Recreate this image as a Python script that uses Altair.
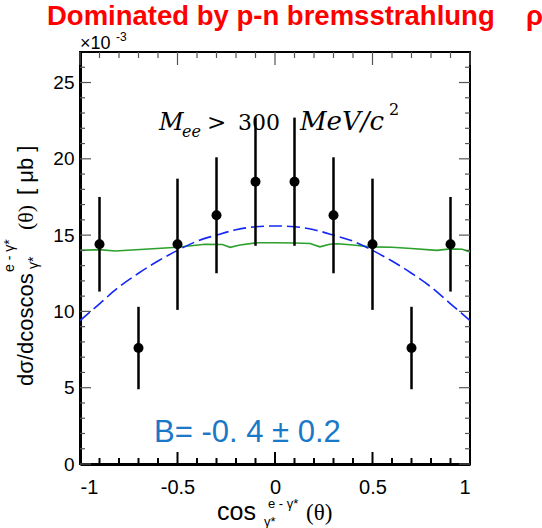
import altair as alt
import pandas as pd

# Measured angular distribution (x10^-3 ub)
bin_centers = [-0.9, -0.7, -0.5, -0.3, -0.1, 0.1, 0.3, 0.5, 0.7, 0.9]
xsec = [14.4, 7.6, 14.4, 16.3, 18.5, 18.5, 16.3, 14.4, 7.6, 14.4]
xsec_err = [3.1, 2.7, 4.3, 3.8, 4.2, 4.2, 3.8, 4.3, 2.7, 3.1]

# Fitted anisotropy curve (blue dashed)
fit_x = [-1.0, -0.9, -0.8, -0.7, -0.6, -0.5, -0.4, -0.3, -0.2, -0.1, 0.0,
         0.1, 0.2, 0.3, 0.4, 0.5, 0.6, 0.7, 0.8, 0.9, 1.0]
fit_y = [9.4, 10.5, 11.6, 12.5, 13.3, 14.0, 14.6, 15.0, 15.35, 15.55, 15.6,
         15.55, 15.35, 15.0, 14.6, 14.0, 13.3, 12.5, 11.6, 10.5, 9.4]

# Simulation (green)
sim_x = [-1.0, -0.9, -0.82, -0.67, -0.5, -0.36, -0.27, -0.23, -0.18, -0.09, 0.0,
         0.1, 0.18, 0.23, 0.28, 0.32, 0.4, 0.49, 0.6, 0.7, 0.83, 0.9, 0.96, 1.0]
sim_y = [14.0, 14.05, 13.96, 14.07, 14.2, 14.4, 14.38, 14.2, 14.35, 14.5, 14.5,
         14.48, 14.45, 14.23, 14.4, 14.43, 14.35, 14.23, 14.2, 14.12, 14.0, 14.1, 14.07, 13.9]

x_major = [-1.0, -0.5, 0.0, 0.5, 1.0]
x_minor = [-0.9, -0.8, -0.7, -0.6, -0.4, -0.3, -0.2, -0.1,
           0.1, 0.2, 0.3, 0.4, 0.6, 0.7, 0.8, 0.9]
y_major = [0, 5, 10, 15, 20, 25]
y_minor = [1, 2, 3, 4, 6, 7, 8, 9, 11, 12, 13, 14, 16, 17, 18, 19, 21, 22, 23, 24, 26]

W, H = 390, 412
X_DOMAIN = [-1, 1]
Y_DOMAIN = [0, 27]

xs = alt.Scale(domain=X_DOMAIN, nice=False, zero=False)
ys = alt.Scale(domain=Y_DOMAIN, nice=False, zero=False)

SANS = "Liberation Sans"
SERIF = "DejaVu Serif"

pts = pd.DataFrame({"x": bin_centers, "y": xsec, "err": xsec_err})
pts["lo"] = pts["y"] - pts["err"]
pts["hi"] = pts["y"] + pts["err"]

label_expr = ("datum.value < 0 ? '-' + format(-datum.value, '~g') : "
              "format(datum.value, '~g')")

x_axis = alt.Axis(values=x_major, labelExpr=label_expr, ticks=False, tickSize=0,
                  grid=False, domain=True, domainColor="black", domainWidth=3,
                  labelFont=SANS, labelFontSize=20, labelColor="black",
                  labelPadding=13, title=None)
y_axis = alt.Axis(values=y_major, ticks=False, tickSize=0, grid=False,
                  domain=True, domainColor="black", domainWidth=3,
                  labelFont=SANS, labelFontSize=19, labelColor="black",
                  labelPadding=6, title=None)

base_pts = alt.Chart(pts)

errbars = base_pts.mark_rule(color="black", strokeWidth=2.5).encode(
    x=alt.X("x:Q", scale=xs, axis=x_axis),
    y=alt.Y("lo:Q", scale=ys, axis=y_axis),
    y2="hi:Q",
)
dots = base_pts.mark_point(filled=True, color="black", size=100, opacity=1,
                           shape="circle").encode(
    x=alt.X("x:Q", scale=xs), y=alt.Y("y:Q", scale=ys))

fit = alt.Chart(pd.DataFrame({"x": fit_x, "y": fit_y})).mark_line(
    color="#1428f5", strokeWidth=1.6, strokeDash=[13, 5],
    interpolate="monotone", clip=True).encode(
    x=alt.X("x:Q", scale=xs), y=alt.Y("y:Q", scale=ys))

sim = alt.Chart(pd.DataFrame({"x": sim_x, "y": sim_y})).mark_line(
    color="#2ca02c", strokeWidth=1.6, clip=True).encode(
    x=alt.X("x:Q", scale=xs), y=alt.Y("y:Q", scale=ys))


def xticks(vals, y0, y1, color, width):
    return alt.Chart(pd.DataFrame({"v": vals})).mark_rule(
        color=color, strokeWidth=width).encode(
        x=alt.X("v:Q", scale=xs), y=alt.value(y0), y2=alt.value(y1))


def yticks(vals, x0, x1, color, width):
    return alt.Chart(pd.DataFrame({"v": vals})).mark_rule(
        color=color, strokeWidth=width).encode(
        y=alt.Y("v:Q", scale=ys), x=alt.value(x0), x2=alt.value(x1))


ticks = [
    xticks(x_major, H, H - 12, "black", 2),
    xticks(x_minor, H, H - 6, "black", 2),
    xticks(x_major, 0, 13, "#555555", 1.2),
    xticks(x_minor, 0, 6, "#555555", 1.2),
    yticks(y_major, 0, 11, "#555555", 1.2),
    yticks(y_minor, 0, 5, "#555555", 1.2),
    yticks(y_major, W, W - 11, "#555555", 1.2),
    yticks(y_minor, W, W - 5, "#555555", 1.2),
]


def label(text, x, y, size, font=SANS, color="black", weight="normal",
          style="normal", angle=0, align="left"):
    return alt.Chart(pd.DataFrame({"t": [text]})).mark_text(
        font=font, fontSize=size, color=color, fontWeight=weight,
        fontStyle=style, angle=angle, align=align, baseline="alphabetic").encode(
        text="t:N", x=alt.value(x), y=alt.value(y))


title_text = "Dominated by p-n bremsstrahlung"
title_rho = "ρ"
exp_base = "×10"
exp_power = "-3"
fit_result = "B= -0. 4 ± 0.2"

texts = [
    label(title_text, -33, -27, 27.5, color="#ff0000", weight="bold"),
    label(title_rho, 446, -27, 27.5, color="#ff0000", weight="bold"),
    label(exp_base, 0, -3, 18),
    label(exp_power, 36, -11, 12),
    # mass cut annotation
    label("M", 79, 78, 24, font=SERIF, style="italic"),
    label("ee", 102, 85, 16, font=SERIF, style="italic"),
    label(">", 127, 78, 23, font=SERIF),
    label("300", 158, 78, 22, font=SERIF),
    label("MeV/c", 220, 78, 26, font=SERIF, style="italic"),
    label("2", 309, 63, 16, font=SERIF),
    # fitted coefficient
    label(fit_result, 74, 390, 31, color="#1a78c8"),
    # x axis title
    label("cos", 137, 468, 25),
    label("e - γ*", 188, 456, 13),
    label("γ*", 184, 474, 13),
    label("(θ)", 226, 468, 23, font="Liberation Serif"),
    # y axis title
    label("dσ/dcoscos", -47, 334, 22, angle=270),
    label("e - γ*", -66, 220, 14, angle=270),
    label("γ*", -42, 217, 14, angle=270),
    label("(θ)", -47, 178, 22, font="Liberation Serif", angle=270),
    label("[ μb ]", -47, 143, 22, angle=270),
]

chart = alt.layer(sim, fit, errbars, dots, *ticks, *texts).properties(
    width=W, height=H,
    autosize=alt.AutoSizeParams(type="none"),
    padding={"left": 80, "top": 52, "right": 72, "bottom": 64},
    background="white",
).configure_view(stroke="black", strokeWidth=2)

chart.save("out.html", embed_options={"renderer": "svg", "actions": False})
